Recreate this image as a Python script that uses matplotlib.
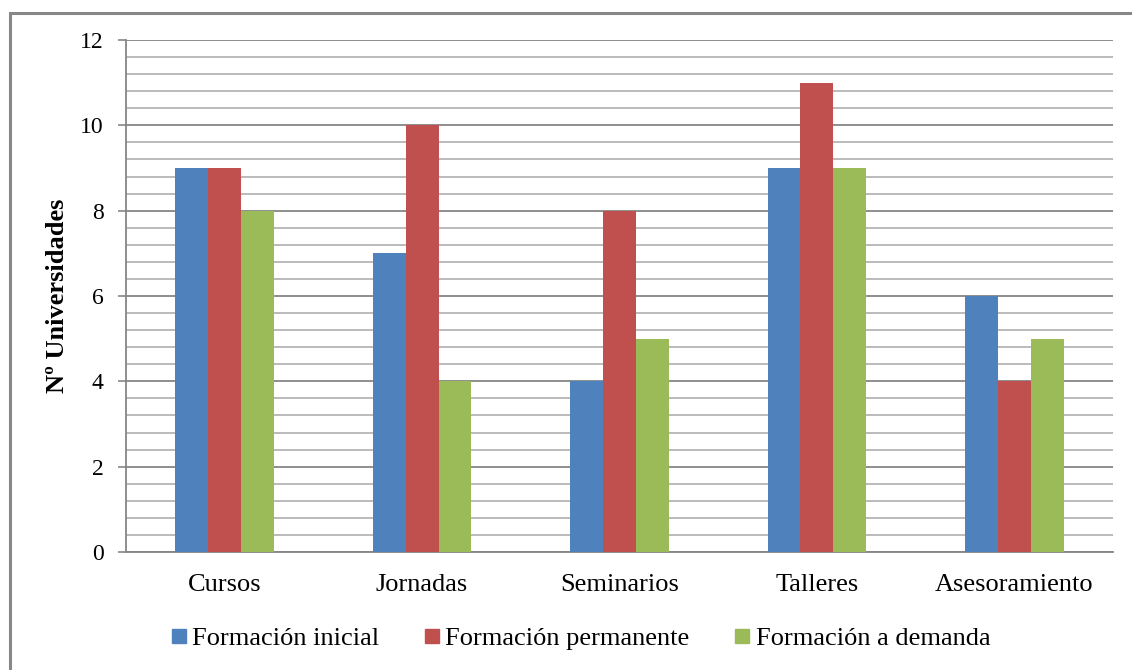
import matplotlib
matplotlib.use("Agg")
import matplotlib.pyplot as plt
from matplotlib.lines import Line2D
from matplotlib.patches import Rectangle
from matplotlib.ticker import MultipleLocator
import numpy as np

categories = ["Cursos", "Jornadas", "Seminarios", "Talleres", "Asesoramiento"]
series_names = ["Formación inicial", "Formación permanente", "Formación a demanda"]
formacion_inicial = [9, 7, 4, 9, 6]
formacion_permanente = [9, 10, 8, 11, 4]
formacion_demanda = [8, 4, 5, 9, 5]
y_ticks = [0, 2, 4, 6, 8, 10, 12]
y_label = "Nº Universidades"

colors = ["#4F81BD", "#C0504D", "#9BBB59"]
series = [formacion_inicial, formacion_permanente, formacion_demanda]

plt.rcParams['font.family'] = ['Liberation Serif', 'DejaVu Serif']

fig = plt.figure(figsize=(11.32, 6.70), dpi=100)
ax = fig.add_axes([126/1132, 1-552/670, (1113-126)/1132, (552-40)/670])

x = np.arange(len(categories))
w = 1/6
for i, (vals, c) in enumerate(zip(series, colors)):
    ax.bar(x + (i-1)*w, vals, width=w, color=c, zorder=3, linewidth=0)

ax.set_xlim(-0.5, len(categories)-0.5)
ax.set_ylim(0, 12)
ax.set_yticks(y_ticks)
ax.yaxis.set_minor_locator(MultipleLocator(0.4))
ax.grid(which='major', axis='y', color='#868686', linewidth=1.3, zorder=0)
ax.grid(which='minor', axis='y', color='#b5b5b5', linewidth=1.3, zorder=0)
ax.set_xticks(x)
ax.set_xticklabels(categories, fontsize=19)
ax.tick_params(axis='x', length=0, pad=16)
ax.tick_params(axis='y', which='major', length=6, width=1.2, color='#868686', pad=10, labelsize=17)
ax.tick_params(axis='y', which='minor', length=0)
for s in ['top', 'right']:
    ax.spines[s].set_visible(False)
for s in ['left', 'bottom']:
    ax.spines[s].set_color('#868686')
    ax.spines[s].set_linewidth(1.3)

ax.set_ylabel(y_label, fontsize=19, fontweight='bold')
ax.yaxis.set_label_coords(-0.058, 0.5)

handles = [Line2D([], [], marker='s', linestyle='none', markersize=10,
                  markerfacecolor=c, markeredgecolor=c) for c in colors]
fig.legend(handles, series_names, loc='center', bbox_to_anchor=(0.513, 1-638/670),
           ncol=3, frameon=False, fontsize=19, handlelength=0.6, handletextpad=0.2,
           columnspacing=1.7, borderaxespad=0)

fig.patches.append(Rectangle((9.5/1132, -0.1), 1.2, 1 - 13.5/670 + 0.1,
                             transform=fig.transFigure, fill=False,
                             edgecolor='#878787', linewidth=2.2, figure=fig))

fig.savefig("out.png", dpi=100)
